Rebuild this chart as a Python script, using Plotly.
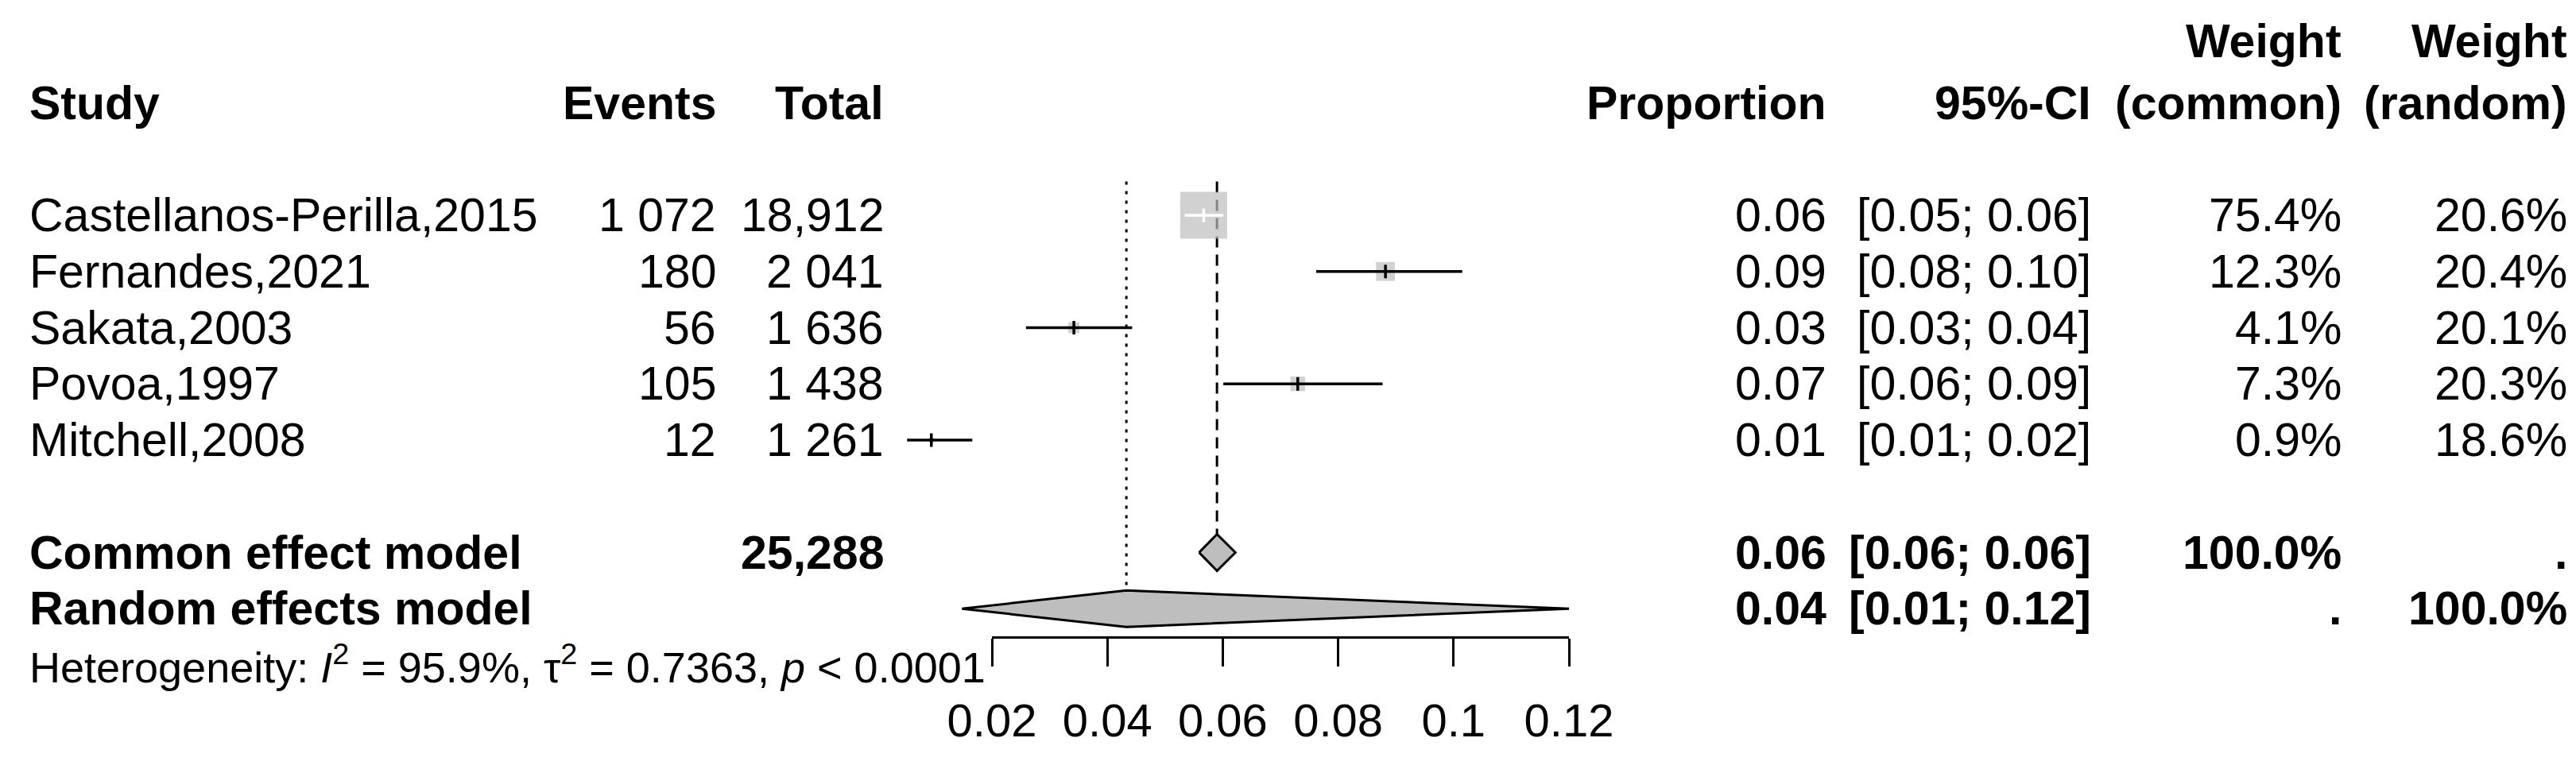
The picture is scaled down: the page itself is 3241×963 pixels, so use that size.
import math
import plotly.graph_objects as go

# ---------------- data ----------------
studies = ["Castellanos-Perilla,2015", "Fernandes,2021", "Sakata,2003", "Povoa,1997", "Mitchell,2008"]
events_lbl = ["1 072", "180", "56", "105", "12"]
total_lbl = ["18,912", "2 041", "1 636", "1 438", "1 261"]
proportion = [0.0567, 0.0882, 0.0342, 0.0730, 0.0095]
ci_low = [0.0534, 0.0762, 0.0259, 0.0601, 0.0053]
ci_high = [0.0601, 0.1015, 0.0443, 0.0877, 0.0166]
weight_common = [75.4, 12.3, 4.1, 7.3, 0.9]
weight_random = [20.6, 20.4, 20.1, 20.3, 18.6]

common_total_lbl = "25,288"
common_est, common_lo, common_hi = 0.0590, 0.0559, 0.0622
random_est, random_lo, random_hi = 0.0433, 0.0148, 0.1200
het_I2, het_tau2, het_p = "95.9%", "0.7363", "0.0001"

axis_ticks = [0.02, 0.04, 0.06, 0.08, 0.10, 0.12]
axis_ticklabels = ["0.02", "0.04", "0.06", "0.08", "0.1", "0.12"]

# ---------------- layout geometry ----------------
W, H = 3241, 963
X_LO_PX, X_HI_PX = 1240, 1966          # pixel positions of 0.02 and 0.12
PX_PER_UNIT = (X_HI_PX - X_LO_PX) / (axis_ticks[-1] - axis_ticks[0])
ROW0_PX, ROW_PX = 263, 70.75
AXIS_PX = 793

x_range = [axis_ticks[0] - X_LO_PX / PX_PER_UNIT, axis_ticks[0] + (W - X_LO_PX) / PX_PER_UNIT]
y_range = [(H - ROW0_PX) / ROW_PX, -ROW0_PX / ROW_PX]

FONT = "Liberation Sans, Arial, sans-serif"
FS = 59
FS_HET = 54
GREY = "#BEBEBE"

rows = list(range(len(studies)))
ROW_COMMON, ROW_RANDOM, ROW_HET = 6, 7, 7.98
ROW_HEAD, ROW_HEAD1 = -2, -3.1
DIAM_H = 23 / ROW_PX
TICK_H = 8.5 / ROW_PX
BOX_MAX = 59

fig = go.Figure()

# reference lines (behind everything)
ref_top = -0.6
fig.add_trace(go.Scatter(x=[common_est, common_est], y=[ref_top, ROW_COMMON - DIAM_H], mode="lines",
                         line=dict(color="black", width=3, dash="14px,9px"), hoverinfo="skip", showlegend=False))
fig.add_trace(go.Scatter(x=[random_est, random_est], y=[ref_top, ROW_RANDOM - DIAM_H], mode="lines",
                         line=dict(color="black", width=3, dash="4px,8px"), hoverinfo="skip", showlegend=False))

# squares
wmax = max(weight_common)
sizes = [BOX_MAX * math.sqrt(w / wmax) for w in weight_common]
fig.add_trace(go.Scatter(x=proportion, y=rows, mode="markers",
                         marker=dict(symbol="square", size=sizes, color=GREY, line=dict(width=0)),
                         hoverinfo="skip", showlegend=False))

# CI lines and estimate ticks
for r, p, lo, hi, s in zip(rows, proportion, ci_low, ci_high, sizes):
    half = s / 2 / PX_PER_UNIT
    col = "white" if (lo >= p - half and hi <= p + half) else "black"
    fig.add_trace(go.Scatter(x=[lo, hi], y=[r, r], mode="lines", line=dict(color=col, width=3.5),
                             hoverinfo="skip", showlegend=False))
    fig.add_trace(go.Scatter(x=[p, p], y=[r - TICK_H, r + TICK_H], mode="lines", line=dict(color=col, width=3.5),
                             hoverinfo="skip", showlegend=False))

# diamonds
for r, est, lo, hi in [(ROW_COMMON, common_est, common_lo, common_hi), (ROW_RANDOM, random_est, random_lo, random_hi)]:
    fig.add_trace(go.Scatter(x=[lo, est, hi, est, lo], y=[r, r - DIAM_H, r, r + DIAM_H, r], mode="lines",
                             fill="toself", fillcolor=GREY, line=dict(color="black", width=3),
                             hoverinfo="skip", showlegend=False))

# invisible trace that attaches the visible x axis (x2)
fig.add_trace(go.Scatter(x=[axis_ticks[0]], y=[0], xaxis="x2", yaxis="y2", mode="markers",
                         marker=dict(opacity=0), hoverinfo="skip", showlegend=False))

# ---------------- text columns ----------------
ann = []
def txt(text, xpx, row, anchor="right", bold=False, size=FS):
    if bold:
        text = "<b>" + text + "</b>"
    ann.append(dict(text=text, x=xpx / W, y=row, xref="paper", yref="y", xanchor=anchor, yanchor="middle",
                    showarrow=False, font=dict(family=FONT, size=size, color="black")))

COL_STUDY, COL_EV, COL_TOT = 27, 895, 1106
COL_PROP, COL_CI, COL_WC, COL_WR = 2292, 2625, 2940, 3224

# headers
txt("Study", COL_STUDY, ROW_HEAD, "left", True)
txt("Events", COL_EV, ROW_HEAD, bold=True)
txt("Total", COL_TOT, ROW_HEAD, bold=True)
txt("Proportion", COL_PROP, ROW_HEAD, bold=True)
txt("95%-CI", COL_CI, ROW_HEAD, bold=True)
txt("Weight", COL_WC, ROW_HEAD1, bold=True)
txt("(common)", COL_WC, ROW_HEAD, bold=True)
txt("Weight", COL_WR, ROW_HEAD1, bold=True)
txt("(random)", COL_WR, ROW_HEAD, bold=True)

for r, s, e, t, p, lo, hi, wc, wr in zip(rows, studies, events_lbl, total_lbl, proportion, ci_low, ci_high,
                                          weight_common, weight_random):
    txt(s, COL_STUDY, r, "left")
    txt(e, COL_EV, r)
    txt(t, COL_TOT, r)
    txt(f"{p:.2f}", COL_PROP, r)
    txt(f"[{lo:.2f}; {hi:.2f}]", COL_CI, r)
    txt(f"{wc:.1f}%", COL_WC, r)
    txt(f"{wr:.1f}%", COL_WR, r)

txt("Common effect model", COL_STUDY, ROW_COMMON, "left", True)
txt(common_total_lbl, COL_TOT, ROW_COMMON, bold=True)
txt(f"{common_est:.2f}", COL_PROP, ROW_COMMON, bold=True)
txt(f"[{common_lo:.2f}; {common_hi:.2f}]", COL_CI, ROW_COMMON, bold=True)
txt(f"{sum(weight_common):.1f}%", COL_WC, ROW_COMMON, bold=True)
txt(".", COL_WR, ROW_COMMON, bold=True)

txt("Random effects model", COL_STUDY, ROW_RANDOM, "left", True)
txt(f"{random_est:.2f}", COL_PROP, ROW_RANDOM, bold=True)
txt(f"[{random_lo:.2f}; {random_hi:.2f}]", COL_CI, ROW_RANDOM, bold=True)
txt(".", COL_WC, ROW_RANDOM, bold=True)
txt(f"{sum(weight_random):.1f}%", COL_WR, ROW_RANDOM, bold=True)

txt(f"Heterogeneity: <i>I</i><sup>2</sup> = {het_I2}, τ<sup>2</sup> = {het_tau2}, <i>p</i> &lt; {het_p}",
    COL_STUDY, ROW_HET, "left", size=FS_HET)

fig.update_layout(
    width=W, height=H, autosize=False,
    margin=dict(l=0, r=0, t=0, b=0, pad=0, autoexpand=False),
    paper_bgcolor="white", plot_bgcolor="rgba(0,0,0,0)",
    showlegend=False,
    xaxis=dict(domain=[0, 1], range=x_range, visible=False, fixedrange=True, automargin=False),
    yaxis=dict(domain=[0, 1], range=y_range, visible=False, fixedrange=True, automargin=False),
    xaxis2=dict(domain=[X_LO_PX / W, X_HI_PX / W], range=[axis_ticks[0], axis_ticks[-1]],
                anchor="y2", side="bottom", automargin=False,
                showline=True, linewidth=3, linecolor="black", showgrid=False, zeroline=False,
                ticks="outside", ticklen=35, tickwidth=3, tickcolor="black",
                tickmode="array", tickvals=axis_ticks, ticktext=axis_ticklabels,
                tickfont=dict(family=FONT, size=58, color="black"), ticklabelstandoff=18,
                fixedrange=True),
    yaxis2=dict(domain=[(H - AXIS_PX) / H, (H - AXIS_PX + 10) / H], range=[0, 1], visible=False,
                anchor="x2", fixedrange=True, automargin=False),
    annotations=ann,
)

fig.write_html("out.html")
